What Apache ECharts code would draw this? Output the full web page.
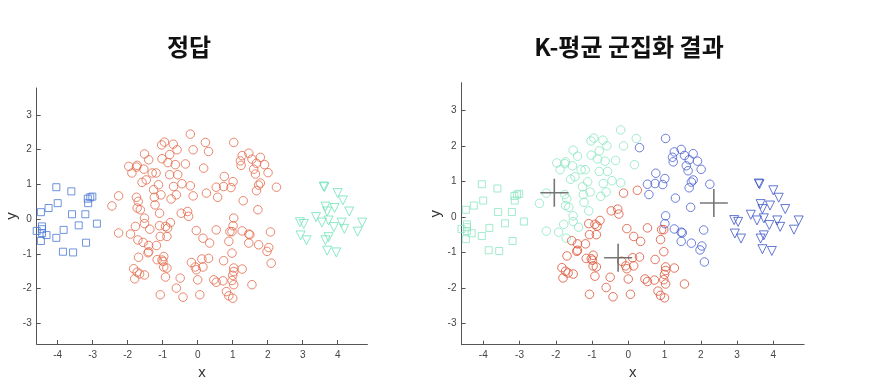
<!DOCTYPE html>
<html>
<head>
<meta charset="utf-8">
<script src="https://cdn.jsdelivr.net/npm/echarts@6/dist/echarts.min.js"></script>
<style>
html,body{margin:0;padding:0;background:#fff;}
#chart{width:871px;height:391px;}
</style>
</head>
<body>
<div id="chart"></div>
<script>
// ---- data ----
const titleLeft = '정답';
const titleRight = 'K-평균 군집화 결과';
const xTicks = [-4, -3, -2, -1, 0, 1, 2, 3, 4];
const yTicks = [-3, -2, -1, 0, 1, 2, 3];

// class 1 (squares)
const squares = [[-4.04,0.92],[-3.61,0.80],[-4.00,0.46],[-4.26,0.32],[-4.48,0.20],[-3.59,0.14],[-3.21,0.14],
  [-3.14,0.59],[-3.07,0.63],[-3.01,0.65],[-3.13,0.46],[-2.88,-0.13],[-3.40,-0.18],[-4.45,-0.21],[-4.45,-0.29],
  [-4.60,-0.34],[-4.45,-0.40],[-4.32,-0.46],[-4.48,-0.63],[-3.83,-0.31],[-4.04,-0.54],[-3.19,-0.68],
  [-3.85,-0.94],[-3.56,-0.96]];

// class 3 (triangles)
const triangles = [[3.60,0.94],[3.62,0.92],[4.00,0.75],[4.15,0.54],[3.65,0.36],[3.91,0.32],[3.70,0.22],
  [4.33,0.22],[3.38,0.06],[3.55,-0.10],[3.74,-0.04],[4.11,-0.10],[4.70,-0.10],[2.92,-0.09],[3.03,-0.14],
  [3.89,-0.23],[4.19,-0.28],[4.57,-0.36],[2.94,-0.47],[3.11,-0.61],[3.74,-0.52],[3.65,-0.61],[3.70,-0.91],
  [3.96,-0.96]];

// class 2 (circles), split by k-means cluster they were given
const circlesGreen = [[-2.26,0.67],[-2.45,0.38],[-2.26,-0.40],[-1.97,1.52],[-1.88,1.33],[-1.75,1.50],[-1.73,1.55],
  [-1.54,1.44],[-1.52,1.88],[-1.40,1.71],[-1.59,1.06],[-1.47,1.13],[-1.30,1.33],[-1.19,1.33],[-1.75,0.63],
  [-1.70,0.51],[-1.73,0.32],[-1.64,0.27],[-1.26,0.85],[-1.12,0.99],[-1.24,0.63],[-1.22,0.41],[-1.05,0.70],
  [-1.52,0.03],[-1.52,-0.13],[-1.78,-0.21],[-1.92,-0.43],[-1.09,0.17],[-1.37,-0.29],[-1.71,-0.60],
  [-0.95,2.22],[-1.03,2.14],[-0.70,2.16],[-0.59,2.00],[-1.02,1.74],[-0.80,1.86],[-0.85,1.63],[-0.64,1.57],
  [-0.80,1.28],[-0.57,1.28],[-0.35,1.59],[-0.69,0.94],[-0.45,1.02],[-0.61,0.70],[-0.76,0.58],[-0.21,2.45],
  [-0.13,2.00],[-0.21,0.96],[0.22,2.21],[0.17,1.47]];
const circlesRed = [[-0.13,0.67],[-0.47,0.17],[-0.29,0.22],[-0.26,0.08],[-1.56,-0.67],[-1.40,-0.76],[-1.18,-0.76],
  [-1.69,-1.10],[-1.40,-0.94],[-1.42,-0.97],[-1.16,-1.17],[-1.09,-0.19],[-1.07,-0.50],[-0.92,-0.21],[-0.86,-0.26],
  [-0.78,-0.10],[-0.88,-0.50],[-0.97,-1.08],[-0.99,-1.22],[-1.02,-1.18],[-0.97,-1.38],[-0.88,-1.41],[-0.92,-1.67],
  [-1.83,-1.43],[-1.73,-1.53],[-1.66,-1.58],[-1.80,-1.72],[-1.52,-1.61],[-1.07,-2.18],[-0.61,-1.99],[-0.50,-1.70],
  [-0.42,-2.25],[-0.04,-0.33],[-0.18,-1.25],[-0.07,-1.38],[-0.04,-1.46],[0.00,-1.75],[0.06,-2.18],[0.12,-1.15],
  [0.15,-1.38],[0.15,-0.55],[0.34,-0.69],[0.31,-1.13],[0.25,0.75],[0.53,-0.31],[0.46,-1.75],[0.53,-1.82],
  [0.92,-0.36],[0.98,-0.36],[0.89,-0.64],[0.98,-0.98],[0.74,-1.20],[1.03,-1.41],[1.27,-1.44],[1.03,-1.51],
  [1.00,-1.62],[0.72,-1.78],[0.98,-1.77],[1.03,-1.89],[1.55,-1.89],[0.82,-2.09],[0.89,-2.21],[1.00,-2.28]];
const circlesBlue = [[0.31,1.95],[0.53,0.92],[0.57,0.63],[1.03,2.21],[1.27,1.83],[1.46,1.90],[1.79,1.78],
  [1.22,1.68],[1.55,1.73],[1.24,1.55],[1.91,1.57],[1.68,1.61],[1.60,1.44],[1.65,1.30],[2.01,1.34],[0.76,1.23],
  [1.01,1.08],[1.79,1.04],[1.74,0.98],[0.74,0.94],[0.95,0.91],[2.25,0.92],[1.68,0.82],[1.30,0.53],[1.72,0.27],
  [1.03,0.03],[1.01,-0.19],[1.27,-0.34],[1.46,-0.43],[1.49,-0.45],[2.08,-0.37],[1.46,-0.69],[1.74,-0.74],
  [2.03,-0.82],[1.98,-0.93],[2.10,-1.27]];

// k-means centroids
const centroids = [[-2.04,0.68],[-0.28,-1.15],[2.36,0.39]];

// ---- chart ----
const allCircles = circlesGreen.concat(circlesRed, circlesBlue);

const axisColor = '#555';
function xAx(gi) {
  return {
    gridIndex: gi, type: 'value', min: -4.6, max: 4.85,
    axisLine: {show: true, onZero: false, lineStyle: {color: axisColor, width: 1}},
    axisTick: {show: true, inside: true, length: 4, customValues: xTicks, lineStyle: {color: axisColor}},
    axisLabel: {customValues: xTicks, color: '#444', fontSize: 10, fontFamily: 'Liberation Sans', margin: 6},
    splitLine: {show: false},
    name: 'x', nameLocation: 'middle', nameGap: 12,
    nameTextStyle: {fontSize: 15, color: '#333', fontFamily: 'Liberation Sans'}
  };
}
function yAx(gi) {
  return {
    gridIndex: gi, type: 'value', min: -3.6, max: 3.78,
    axisLine: {show: true, onZero: false, lineStyle: {color: axisColor, width: 1}},
    axisTick: {show: true, inside: true, length: 4, customValues: yTicks, lineStyle: {color: axisColor}},
    axisLabel: {customValues: yTicks, color: '#444', fontSize: 10, fontFamily: 'Liberation Sans', margin: 5},
    splitLine: {show: false},
    name: 'y', nameLocation: 'middle', nameGap: 14, nameRotate: 90,
    nameTextStyle: {fontSize: 15, color: '#333', fontFamily: 'Liberation Sans'}
  };
}
function sc(data, gi, symbol, size, color, rotate) {
  return {
    type: 'scatter', xAxisIndex: gi, yAxisIndex: gi, data: data,
    symbol: symbol, symbolSize: size, symbolRotate: rotate || 0,
    itemStyle: {color: 'rgba(0,0,0,0)', borderColor: color, borderWidth: 1},
    clip: false, silent: true, animation: false
  };
}

const option = {
  backgroundColor: '#fff',
  animation: false,
  title: [
    {text: titleLeft, left: 189, top: 35, textAlign: 'center', padding: 0,
     textStyle: {fontSize: 24, fontWeight: 'bold', color: '#111', fontFamily: '"Noto Sans CJK KR"'}},
    {text: titleRight, left: 629, top: 35, textAlign: 'center', padding: 0,
     textStyle: {fontSize: 24, fontWeight: 'bold', color: '#111', fontFamily: '"Noto Sans CJK KR"'}}
  ],
  grid: [
    {left: 36.7, top: 88, width: 330.75, height: 256, containLabel: false, outerBoundsMode: 'none'},
    {left: 461.5, top: 82.7, width: 342.6, height: 262, containLabel: false, outerBoundsMode: 'none'}
  ],
  xAxis: [xAx(0), xAx(1)],
  yAxis: [yAx(0), yAx(1)],
  series: [
    sc(squares, 0, 'rect', 7, '#4a78d6'),
    sc(allCircles, 0, 'circle', 8.5, '#e36a4b'),
    sc(triangles, 0, 'triangle', 9, '#6fe3b8', 180),
    sc(squares, 1, 'rect', 7, '#8be6c2'),
    sc(circlesGreen, 1, 'circle', 8.5, '#8be6c2'),
    sc(circlesRed, 1, 'circle', 8.5, '#dc5236'),
    sc(circlesBlue, 1, 'circle', 8.5, '#4a5fcf'),
    sc(triangles, 1, 'triangle', 9, '#3b55c6', 180),
    {
      type: 'scatter', xAxisIndex: 1, yAxisIndex: 1, data: centroids,
      symbol: 'path://M14,0L14,28M0,14L28,14', symbolSize: 28,
      itemStyle: {color: 'rgba(0,0,0,0)', borderColor: '#555', borderWidth: 1.6},
      clip: false, silent: true, z: 5
    }
  ]
};

const chart = echarts.init(document.getElementById('chart'), null, {renderer: 'canvas'});
chart.setOption(option);
</script>
</body>
</html>
